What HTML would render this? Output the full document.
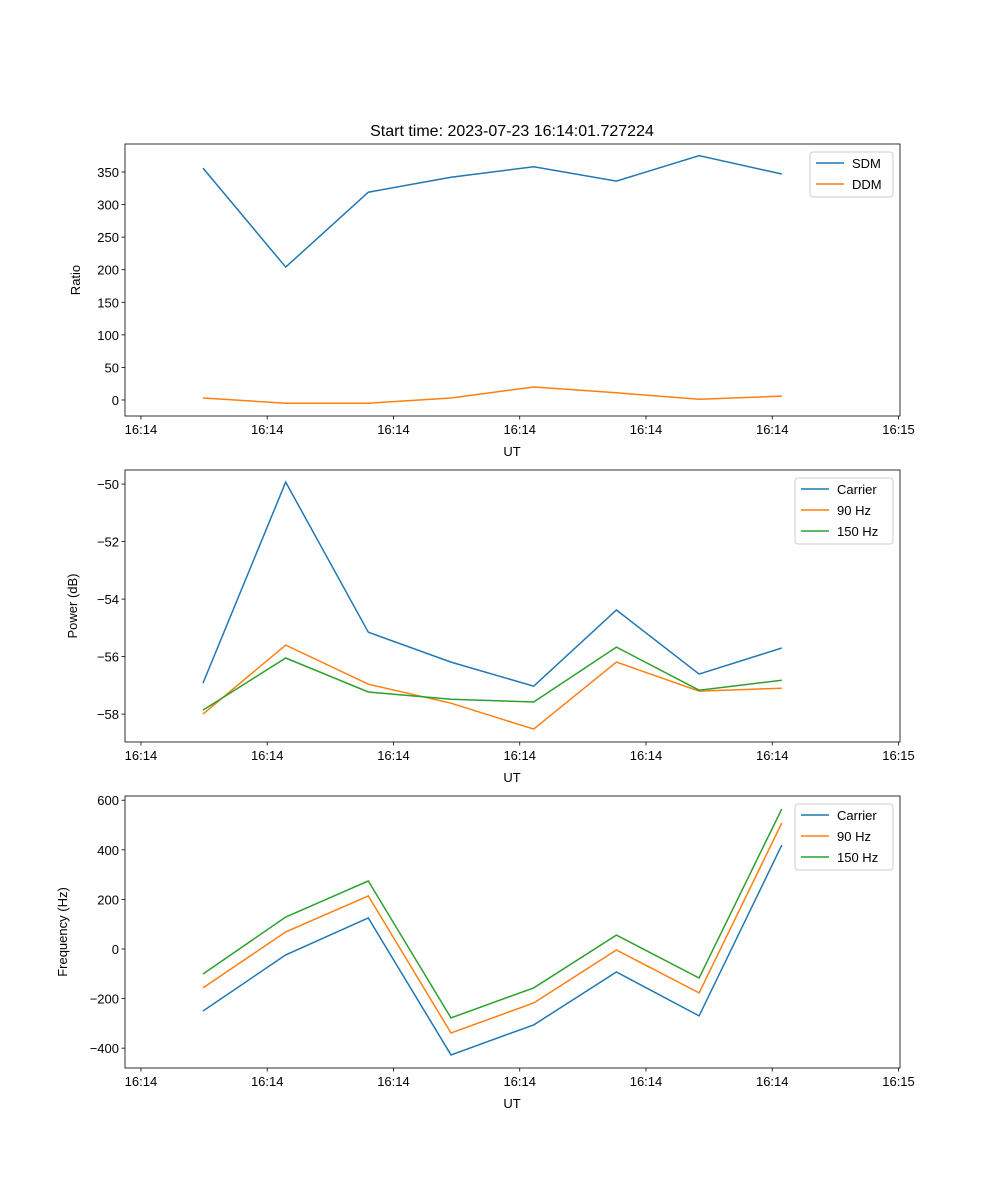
<!DOCTYPE html>
<html><head><meta charset="utf-8"><style>
body{margin:0;background:#fff}
svg{display:block;font-family:"Liberation Sans","DejaVu Sans",sans-serif}
</style></head><body>
<svg id="fig" width="1000" height="1200" xmlns="http://www.w3.org/2000/svg">
<text x="512" y="136" font-size="16" text-anchor="middle">Start time: 2023-07-23 16:14:01.727224</text>
</svg>
<script>
const sampleIdx = [0,1,2,3,4,5,6,7];
const xTickPos = [-0.75,0.777,2.304,3.831,5.358,6.885,8.412];
const xTickLabels = ["16:14","16:14","16:14","16:14","16:14","16:14","16:15"];
const sdm = [356,204,319,342,358,336,375,347];
const ddm = [3,-5,-5,3,20,11,1,6];
const pCarrier = [-56.92,-49.93,-55.15,-56.19,-57.03,-54.38,-56.61,-55.70];
const p90 = [-58.0,-55.6,-56.96,-57.62,-58.52,-56.19,-57.2,-57.1];
const p150 = [-57.86,-56.05,-57.23,-57.48,-57.58,-55.67,-57.17,-56.82];
const fCarrier = [-250,-24,125,-427,-306,-93,-270,419];
const f90 = [-157,69,214,-339,-218,-4,-177,508];
const f150 = [-101,129,274,-278,-157,56,-117,565];
const yTicks1 = [0,50,100,150,200,250,300,350];
const yTicks2 = [-58,-56,-54,-52,-50];
const yTicks3 = [-400,-200,0,200,400,600];

const NS="http://www.w3.org/2000/svg";
const svg=document.getElementById('fig');
const L=125,R=900;
const xmin=-0.943,xmax=8.43;
function xs(v){return L+(v-xmin)/(xmax-xmin)*(R-L);}
function mk(tag,attrs,parent){const e=document.createElementNS(NS,tag);for(const k in attrs)e.setAttribute(k,attrs[k]);(parent||svg).appendChild(e);return e;}
const C=['#1f77b4','#ff7f0e','#2ca02c'];

function panel(id,top,bot,ymin,ymax,yticks,series,names,ylabel,legBox,ylabelX){
  const g=mk('g',{});
  
  
  const ys=v=>bot-(v-ymin)/(ymax-ymin)*(bot-top);
  series.forEach((s,i)=>{
    const p=mk('polyline',{points:s.map((v,j)=>xs(sampleIdx[j]).toFixed(1)+','+ys(v).toFixed(1)).join(' '),fill:'none',stroke:C[i],'stroke-width':1.5},g);
    
    
  });
  const fr=mk('rect',{x:L,y:top,width:R-L,height:bot-top,fill:'none',stroke:'#000','stroke-width':0.8},g);
  
  
  xTickPos.forEach((t,i)=>{
    const x=xs(t);
    mk('line',{x1:x,x2:x,y1:bot,y2:bot+3.5,stroke:'#000','stroke-width':0.8},g);
    const tx=mk('text',{x:x,y:bot+18,'font-size':13,'text-anchor':'middle'},g);
    tx.textContent=xTickLabels[i];
    
    
  });
  yticks.forEach(t=>{
    const y=ys(t);
    mk('line',{x1:L,x2:L-3.5,y1:y,y2:y,stroke:'#000','stroke-width':0.8},g);
    const tx=mk('text',{x:L-6,y:y+5,'font-size':13,'text-anchor':'end'},g);
    tx.textContent=(t<0?'\u2212'+(-t):t);
    
    
  });
  const xl=mk('text',{x:512,y:bot+40,'font-size':13,'text-anchor':'middle'},g);
  xl.textContent='UT';
  
  
  const cy=(top+bot)/2;
  const yl=mk('text',{x:ylabelX,y:cy,'font-size':13,'text-anchor':'middle',transform:'rotate(-90 '+ylabelX+' '+cy+')'},g);
  yl.textContent=ylabel;
  
  
  const lg=mk('g',{},g);
  
  
  mk('rect',{x:legBox[0],y:legBox[1],width:legBox[2],height:names.length*21+3,fill:'#fff',stroke:'#ccc',rx:3},lg);
  names.forEach((n,i)=>{
    const y=legBox[1]+11+i*21;
    mk('line',{x1:legBox[0]+6,x2:legBox[0]+34,y1:y,y2:y,stroke:C[i],'stroke-width':1.5},lg);
    const t=mk('text',{x:legBox[0]+42,y:y+5,'font-size':13},lg);
    t.textContent=n;
    
    
  });
}
panel('ratio',144,416,-24.6,393,yTicks1,[sdm,ddm],['SDM','DDM'],'Ratio',[810,152,83],80);
panel('power',470,742,-58.97,-49.51,yTicks2,[pCarrier,p90,p150],['Carrier','90 Hz','150 Hz'],'Power (dB)',[795,478,98],77);
panel('freq',796,1068,-480,617,yTicks3,[fCarrier,f90,f150],['Carrier','90 Hz','150 Hz'],'Frequency (Hz)',[795,804,98],67);
</script>
</body></html>
